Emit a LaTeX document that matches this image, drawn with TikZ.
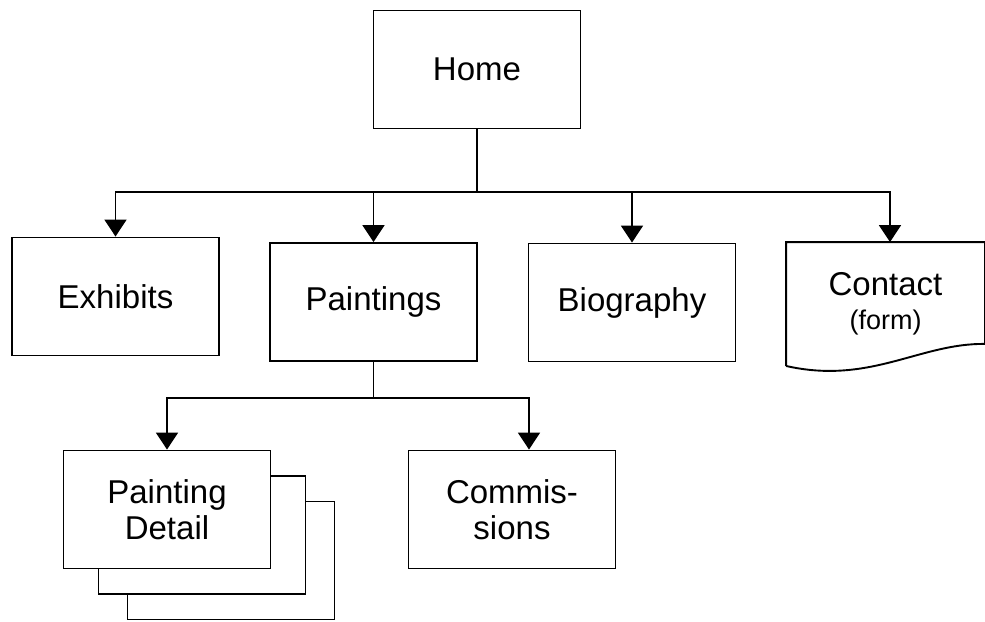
\documentclass[tikz,border=0pt]{standalone}
\usepackage{fontspec}
\setmainfont{Liberation Sans}
\usetikzlibrary{arrows.meta, positioning}
\tikzset{sheetFont/.style={font=\fontsize{33}{36}\selectfont}}

\begin{document}
\begin{tikzpicture}[x=1pt, y=-1pt, line width=1.9pt,
  page/.style={draw, fill=white, minimum width=207pt, minimum height=118pt, align=center, sheetFont},
  link/.style={-{Triangle[width=22pt, length=17pt]}}]
\useasboundingbox (0,0) rectangle (985,621);
\node[page] (home) at (477,69.5) {Home};
\node[page] (exhibits) at (115.5,296.5) {Exhibits};
\node[page] (paintings) at (373.5,302) {Paintings};
\node[page] (biography) at (632,302.5) {Biography};
\node[minimum width=197pt, minimum height=122pt, align=center, sheetFont] (contact) at (885.5,304) {Contact\\[-2pt]\fontsize{27}{31}\selectfont(form)};
\draw (contact.south west) -- (contact.north west) -- (contact.north east) -- ([yshift=22pt]contact.south east) .. controls (920,343) and (870,385) .. (contact.south west);
\node[page] (detailC) at (231,560.5) {};
\node[page] (detailB) at (202,535) {};
\node[page] (detail) at (167,509.5) {Painting\\Detail};
\node[page] (commissions) at (512,509.5) {Commis-\\sions};
\coordinate (hub) at (477,192);
\coordinate (split) at (373.5,398);
\draw (home.south) -- (hub);
\draw[link] (hub) -| (exhibits.north);
\draw[link] (hub) -| (paintings.north);
\draw[link] (hub) -| (biography.north);
\draw[link] (hub) -| ([xshift=4.5pt]contact.north);
\draw (paintings.south) -- (split);
\draw[link] (split) -| (detail.north);
\draw[link] (split) -| ([xshift=17pt]commissions.north);
\end{tikzpicture}
\end{document}
